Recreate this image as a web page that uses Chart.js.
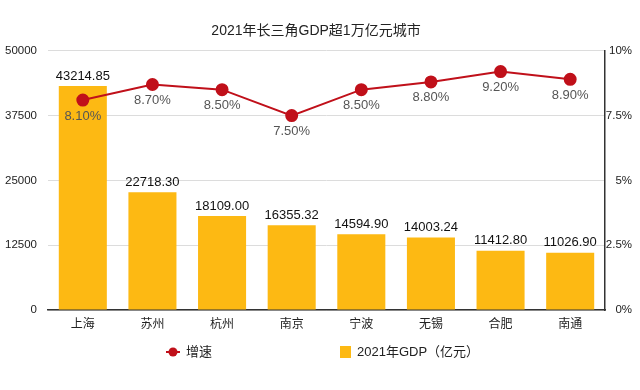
<!DOCTYPE html>
<html><head><meta charset="utf-8">
<script src="https://cdn.jsdelivr.net/npm/chart.js@4"></script>
<style>html,body{margin:0;padding:0;background:#fff}</style>
</head><body>
<canvas id="c" width="640" height="390"></canvas>
<script>
const categories = ['上海','苏州','杭州','南京','宁波','无锡','合肥','南通'];
const gdp = [43214.85, 22718.30, 18109.00, 16355.32, 14594.90, 14003.24, 11412.80, 11026.90];
const growth = [8.10, 8.70, 8.50, 7.50, 8.50, 8.80, 9.20, 8.90];
const leftTicks = [0, 12500, 25000, 37500, 50000];
const rightTickValues = [0, 2.5, 5, 7.5, 10];
const rightTicks = ['0%', '2.5%', '5%', '7.5%', '10%'];
const seriesNames = ['增速', '2021年GDP（亿元）'];

const FONT = '"Liberation Sans", "Noto Sans CJK SC", sans-serif';
const RED = '#C0101A';
const GOLD = '#FDB913';

const labelPlugin = {
  id: 'vals',
  afterDatasetsDraw(chart) {
    const ctx = chart.ctx;
    ctx.save();
    ctx.textAlign = 'center';
    ctx.textBaseline = 'middle';
    const barMeta = chart.getDatasetMeta(1);
    ctx.font = '13px ' + FONT;
    ctx.fillStyle = '#111';
    barMeta.data.forEach((el, i) => {
      ctx.fillText(gdp[i].toFixed(2), el.x, el.y - 10);
    });
    const lineMeta = chart.getDatasetMeta(0);
    ctx.fillStyle = '#555';
    lineMeta.data.forEach((el, i) => {
      ctx.fillText(growth[i].toFixed(2) + '%', el.x, el.y + 16);
    });
    ctx.restore();
  },
  afterDraw(chart) {
    const ctx = chart.ctx;
    ctx.save();
    const y = 352;
    ctx.strokeStyle = RED; ctx.lineWidth = 2;
    ctx.beginPath(); ctx.moveTo(166, y); ctx.lineTo(180, y); ctx.stroke();
    ctx.fillStyle = RED; ctx.beginPath(); ctx.arc(173, y, 4.5, 0, Math.PI * 2); ctx.fill();
    ctx.fillStyle = '#222';
    ctx.font = '13px ' + FONT;
    ctx.textBaseline = 'middle'; ctx.textAlign = 'left';
    ctx.fillText(seriesNames[0], 186, y);
    ctx.fillStyle = GOLD;
    ctx.fillRect(340, y - 6, 11, 12);
    ctx.fillStyle = '#222';
    ctx.fillText(seriesNames[1], 357, y);
    ctx.restore();
  }
};

new Chart(document.getElementById('c'), {
  data: {
    labels: categories,
    datasets: [
      { type: 'line', label: seriesNames[0], data: growth, yAxisID: 'y1', borderColor: RED, backgroundColor: RED,
        borderWidth: 2, pointRadius: 5.5, pointHoverRadius: 5.5, pointStyle: 'circle', order: 0 },
      { type: 'bar', label: seriesNames[1], data: gdp, yAxisID: 'y', backgroundColor: GOLD,
        categoryPercentage: 0.69, barPercentage: 1, order: 1 }
    ]
  },
  options: {
    responsive: false,
    animation: false,
    layout: { padding: { left: 0, right: 8, top: 0, bottom: 49 } },
    plugins: {
      title: { display: true, text: '2021年长三角GDP超1万亿元城市', color: '#222',
        font: { family: FONT, size: 14, weight: 'normal' }, padding: { top: 23, bottom: 11 } },
      legend: { display: false },
      tooltip: { enabled: false }
    },
    scales: {
      x: { grid: { display: false }, border: { display: true, color: '#333', width: 1.5 },
        afterFit(s) { s.height = 31; },
        ticks: { color: '#222', font: { family: FONT, size: 12 }, padding: -1 } },
      y: { position: 'left', min: 0, max: 50000,
        afterBuildTicks(s) { s.ticks = leftTicks.map(v => ({ value: v })); },
        afterFit(s) { s.width = 48; },
        grid: { color: '#dcdcdc', drawTicks: false }, border: { display: false },
        ticks: { color: '#222', font: { family: FONT, size: 11.5 }, padding: 11,
          callback(v) { return String(v); } } },
      y1: { position: 'right', min: 0, max: 10,
        afterBuildTicks(s) { s.ticks = rightTickValues.map(v => ({ value: v })); },
        afterFit(s) { s.width = 27; },
        grid: { display: false, drawTicks: false }, border: { display: true, color: '#333', width: 1.5 },
        ticks: { color: '#222', font: { family: FONT, size: 11.5 }, padding: 3, crossAlign: 'far',
          callback(v, i) { return rightTicks[i]; } } }
    }
  },
  plugins: [labelPlugin]
});
</script>
</body></html>
